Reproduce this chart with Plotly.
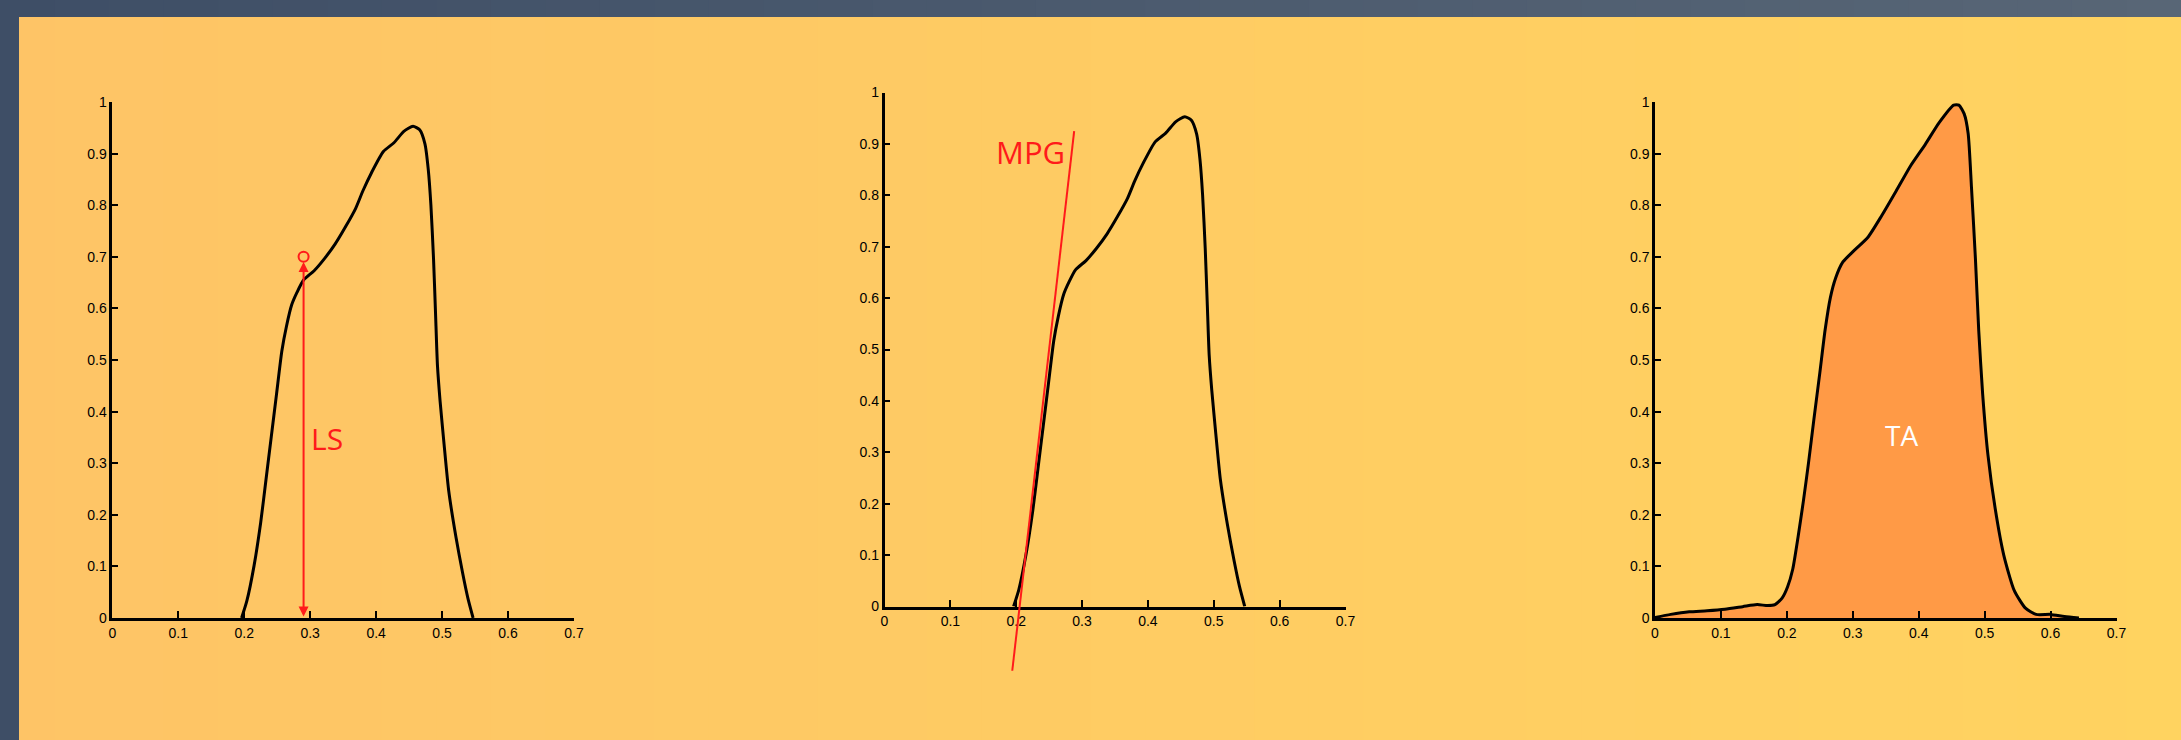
import plotly.graph_objects as go

# ---------------- data ----------------
x_tick_vals = [0, 0.1, 0.2, 0.3, 0.4, 0.5, 0.6, 0.7]
x_tick_text = ["0", "0.1", "0.2", "0.3", "0.4", "0.5", "0.6", "0.7"]
y_tick_vals = [0, 0.1, 0.2, 0.3, 0.4, 0.5, 0.6, 0.7, 0.8, 0.9, 1]
y_tick_text = ["0", "0.1", "0.2", "0.3", "0.4", "0.5", "0.6", "0.7", "0.8", "0.9", "1"]

# pressure curve (panels 1 and 2)
curve_x = [0.196, 0.204, 0.215, 0.225, 0.233, 0.241, 0.249, 0.257, 0.264, 0.272,
           0.280, 0.290, 0.306, 0.322, 0.338, 0.354, 0.369, 0.380, 0.393, 0.411,
           0.427, 0.442, 0.456, 0.466, 0.474, 0.479, 0.483, 0.487, 0.490, 0.493,
           0.497, 0.503, 0.510, 0.521, 0.531, 0.539, 0.547]
curve_y = [0.0, 0.033, 0.102, 0.185, 0.268, 0.351, 0.434, 0.517, 0.565, 0.607,
           0.631, 0.655, 0.673, 0.697, 0.725, 0.759, 0.794, 0.828, 0.863, 0.904,
           0.921, 0.943, 0.953, 0.946, 0.919, 0.870, 0.801, 0.697, 0.593, 0.489,
           0.420, 0.337, 0.247, 0.157, 0.088, 0.039, 0.0]

# pressure curve with area (panel 3)
area_x = [0.0, 0.024, 0.052, 0.079, 0.106, 0.133, 0.155, 0.171, 0.182, 0.193,
          0.201, 0.209, 0.217, 0.225, 0.233, 0.241, 0.250, 0.258, 0.266, 0.274,
          0.285, 0.301, 0.323, 0.344, 0.366, 0.388, 0.410, 0.431, 0.453, 0.461,
          0.469, 0.475, 0.480, 0.486, 0.491, 0.497, 0.505, 0.516, 0.529, 0.545,
          0.562, 0.578, 0.600, 0.621, 0.643]
area_y = [0.001, 0.007, 0.012, 0.014, 0.017, 0.022, 0.026, 0.024, 0.026, 0.039,
          0.060, 0.095, 0.157, 0.226, 0.302, 0.385, 0.475, 0.558, 0.621, 0.659,
          0.690, 0.711, 0.738, 0.780, 0.828, 0.877, 0.918, 0.960, 0.994, 0.994,
          0.977, 0.939, 0.835, 0.697, 0.558, 0.434, 0.316, 0.212, 0.122, 0.053,
          0.019, 0.007, 0.007, 0.003, 0.0]

# annotations data
ls_x = 0.29
ls_top = 0.69
ls_marker_y = 0.70
mpg_x = [0.194, 0.288]
mpg_y = [-0.125, 0.925]

# ---------------- figure ----------------
W, H = 2181, 740
TICKFONT = "Liberation Sans, Arial, sans-serif"
LABELFONT = "Open Sans, Liberation Sans, sans-serif"
RED = "#FF1A1A"

fig = go.Figure()

fig.add_trace(go.Scatter(x=curve_x, y=curve_y, mode="lines",
                         line=dict(color="black", width=3, shape="spline", smoothing=0.6),
                         xaxis="x", yaxis="y", hoverinfo="skip"))
fig.add_trace(go.Scatter(x=[ls_x], y=[ls_marker_y], mode="markers",
                         marker=dict(symbol="circle-open", size=10, color=RED, line=dict(width=2, color=RED)),
                         xaxis="x", yaxis="y", hoverinfo="skip", cliponaxis=False))

fig.add_trace(go.Scatter(x=curve_x, y=curve_y, mode="lines",
                         line=dict(color="black", width=3, shape="spline", smoothing=0.6),
                         xaxis="x2", yaxis="y2", hoverinfo="skip"))
fig.add_trace(go.Scatter(x=mpg_x, y=mpg_y, mode="lines",
                         line=dict(color=RED, width=2),
                         xaxis="x4", yaxis="y4", hoverinfo="skip"))

fig.add_trace(go.Scatter(x=area_x, y=area_y, mode="lines", fill="tozeroy",
                         fillcolor="#FF9A46",
                         line=dict(color="black", width=3, shape="spline", smoothing=0.6),
                         xaxis="x3", yaxis="y3", hoverinfo="skip"))

def px_x(p):
    return p / W

def px_y(p):
    return 1 - p / H

panels = [
    (112.3, 574.0, 102.0, 618.0),
    (884.5, 1345.5, 92.5, 606.5),
    (1655.0, 2116.5, 102.0, 618.0),
]

axis_common_x = dict(range=[0, 0.7], tickvals=x_tick_vals, ticktext=x_tick_text,
                     showgrid=False, zeroline=False, showline=True, linecolor="black",
                     linewidth=2.5, ticks="inside", ticklen=7, tickwidth=1.5, tickcolor="black",
                     tickfont=dict(family=TICKFONT, size=14, color="black"), fixedrange=True,
                     automargin=False)
axis_common_y = dict(range=[0, 1], tickvals=y_tick_vals, ticktext=y_tick_text,
                     showgrid=False, zeroline=False, showline=True, linecolor="black",
                     linewidth=2.5, ticks="inside", ticklen=6, tickwidth=1.5, tickcolor="black",
                     tickfont=dict(family=TICKFONT, size=14, color="black"), fixedrange=True,
                     ticklabelstandoff=0, automargin=False)

layout_axes = {}
names = [("xaxis", "yaxis", "y", "x"), ("xaxis2", "yaxis2", "y2", "x2"), ("xaxis3", "yaxis3", "y3", "x3")]
for (xl, xr, yt, yb), (xn, yn, yanc, xanc) in zip(panels, names):
    layout_axes[xn] = dict(axis_common_x, domain=[px_x(xl), px_x(xr)], anchor=yanc)
    layout_axes[yn] = dict(axis_common_y, domain=[px_y(yb), px_y(yt)], anchor=xanc)

# overlay axes for the MPG tangent line (extends below the x axis)
xl, xr, yt, yb = panels[1]
unit_h = (yb - yt)
ext = 0.2
layout_axes["xaxis4"] = dict(domain=[px_x(xl), px_x(xr)], range=[0, 0.7], visible=False,
                             anchor="y4", fixedrange=True, automargin=False)
layout_axes["yaxis4"] = dict(domain=[px_y(yb + ext * unit_h), px_y(yt)], range=[-ext, 1],
                             visible=False, anchor="x4", fixedrange=True, automargin=False)

# background shapes: dark frame gradient + yellow panel gradient
shapes = []
N = 40
def lerp(c1, c2, t):
    return "rgb(%d,%d,%d)" % tuple(round(a + (b - a) * t) for a, b in zip(c1, c2))

dark_l, dark_r = (62, 78, 102), (88, 102, 118)
yel_l, yel_r = (254, 196, 102), (255, 211, 96)
for i in range(N):
    x0, x1 = i / N, (i + 1) / N + 0.002
    t = (i + 0.5) / N
    shapes.append(dict(type="rect", xref="paper", yref="paper", x0=x0, x1=min(x1, 1),
                       y0=px_y(17), y1=1, fillcolor=lerp(dark_l, dark_r, t),
                       line=dict(width=0), layer="below"))
    yx0 = max(x0, px_x(19))
    shapes.append(dict(type="rect", xref="paper", yref="paper", x0=yx0, x1=min(x1, 1),
                       y0=0, y1=px_y(17), fillcolor=lerp(yel_l, yel_r, t),
                       line=dict(width=0), layer="below"))

annotations = [
    dict(x=ls_x, y=ls_top, xref="x", yref="y", ax=ls_x, ay=0, axref="x", ayref="y",
         showarrow=True, arrowhead=2, startarrowhead=2, arrowside="end+start",
         arrowsize=1, startarrowsize=1, arrowwidth=2, arrowcolor=RED, text="",
         standoff=0, startstandoff=0),
    dict(x=0.298, y=0.347, xref="x", yref="y", text="LS", showarrow=False,
         xanchor="left", yanchor="middle", font=dict(family=LABELFONT, size=30, color=RED)),
    dict(x=0.222, y=0.884, xref="x2", yref="y2", text="MPG", showarrow=False,
         xanchor="center", yanchor="middle", font=dict(family=LABELFONT, size=31, color=RED)),
    dict(x=0.374, y=0.354, xref="x3", yref="y3", text="TA", showarrow=False,
         xanchor="center", yanchor="middle", font=dict(family=LABELFONT, size=28, color="white")),
]

fig.update_layout(
    width=W, height=H,
    autosize=False,
    margin=dict(l=0, r=0, t=0, b=0, pad=0, autoexpand=False),
    paper_bgcolor="rgb(62,78,102)",
    plot_bgcolor="rgba(0,0,0,0)",
    showlegend=False,
    shapes=shapes,
    annotations=annotations,
    **layout_axes,
)

fig.write_html("out.html", config={"displayModeBar": False, "responsive": False},
               post_script="document.body.style.margin='0px';document.body.style.padding='0px';"
                           "document.body.style.overflow='hidden';"
                           "document.body.style.background='rgb(62,78,102)';")
